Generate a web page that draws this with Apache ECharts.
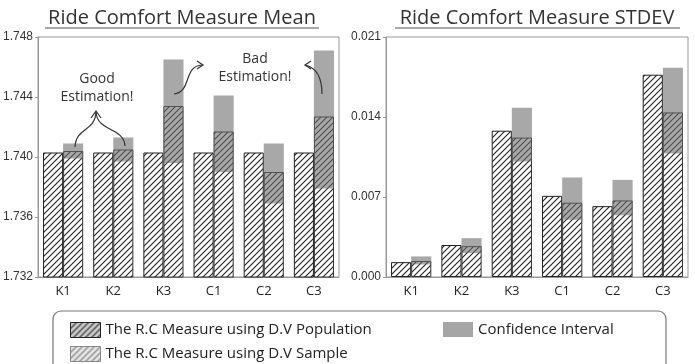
<!DOCTYPE html>
<html>
<head>
<meta charset="utf-8">
<script src="https://cdn.jsdelivr.net/npm/echarts@6/dist/echarts.min.js"></script>
<style>
html, body { margin: 0; padding: 0; background: #fff; }
#chart { width: 695px; height: 364px; }
</style>
</head>
<body>
<div id="chart"></div>
<script>
const categories = ['K1', 'K2', 'K3', 'C1', 'C2', 'C3'];

// left: ride comfort measure mean
const meanPopulation = [1.7403, 1.7403, 1.7403, 1.7403, 1.7403, 1.7403];
const meanSample = [1.7404, 1.7405, 1.7434, 1.7417, 1.7390, 1.7427];
const meanCiLow = [1.7399, 1.7397, 1.7396, 1.7390, 1.7369, 1.7379];
const meanCiHigh = [1.7409, 1.7413, 1.7465, 1.7441, 1.7409, 1.7471];
const meanAxis = { min: 1.732, max: 1.748, interval: 0.004 };

// right: ride comfort measure stdev
const stdPopulation = [0.0013, 0.0028, 0.0128, 0.0071, 0.0062, 0.0177];
const stdSample = [0.0014, 0.0027, 0.0122, 0.0065, 0.0067, 0.0144];
const stdCiLow = [0.0011, 0.0021, 0.0101, 0.0050, 0.0054, 0.0108];
const stdCiHigh = [0.0018, 0.0034, 0.0148, 0.0087, 0.0085, 0.0183];
const stdAxis = { min: 0, max: 0.021, interval: 0.007 };

const POP = 'The R.C Measure using D.V Population';
const SAMPLE = 'The R.C Measure using D.V Sample';
const CI = 'Confidence Interval';

// diagonal hatch tile
function makeHatch(lineColor, bg) {
  const s = 6;
  const c = document.createElement('canvas');
  c.width = s; c.height = s;
  const ctx = c.getContext('2d');
  ctx.fillStyle = bg;
  ctx.fillRect(0, 0, s, s);
  ctx.strokeStyle = lineColor;
  ctx.lineWidth = 1.1;
  ctx.beginPath();
  ctx.moveTo(0, s); ctx.lineTo(s, 0);
  ctx.moveTo(-1, 1); ctx.lineTo(1, -1);
  ctx.moveTo(s - 1, s + 1); ctx.lineTo(s + 1, s - 1);
  ctx.stroke();
  return { image: c, repeat: 'repeat' };
}
const hatch = makeHatch('#222', '#fff');
const hatchLegend = makeHatch('#222', '#ccc');
const hatchLegendLight = makeHatch('#777', '#e6e6e6');

function ciRender(params, api) {
  const cat = api.value(0);
  const lo = api.coord([cat, api.value(1)]);
  const hi = api.coord([cat, api.value(2)]);
  const band = api.size([1, 0])[0];
  const w = band * 0.4;
  return {
    type: 'rect',
    shape: { x: lo[0], y: hi[1], width: w, height: lo[1] - hi[1] },
    style: { fill: 'rgba(105,105,105,0.58)' }
  };
}

function seriesFor(idx, pop, sample, lo, hi) {
  return [
    {
      name: POP, type: 'bar', xAxisIndex: idx, yAxisIndex: idx,
      data: pop, barWidth: '40%', barGap: '0%',
      itemStyle: { color: hatch, borderColor: '#222', borderWidth: 1 }
    },
    {
      name: SAMPLE, type: 'bar', xAxisIndex: idx, yAxisIndex: idx,
      data: sample, barWidth: '40%', barGap: '0%',
      itemStyle: { color: hatch, borderColor: '#333', borderWidth: 1 }
    },
    {
      name: CI, type: 'custom', xAxisIndex: idx, yAxisIndex: idx, z: 3,
      itemStyle: { color: '#a6a6a6' },
      renderItem: ciRender,
      encode: { x: 0, y: [1, 2] },
      data: categories.map((c, i) => [i, lo[i], hi[i]])
    }
  ];
}

function xAxisFor(idx) {
  return {
    gridIndex: idx, type: 'category', data: categories,
    axisTick: { show: false },
    axisLine: { lineStyle: { color: '#999' } },
    axisLabel: { color: '#222', fontSize: 13, fontFamily: 'Open Sans', margin: 8 }
  };
}
function yAxisFor(idx, ax) {
  return {
    gridIndex: idx, type: 'value', min: ax.min, max: ax.max, interval: ax.interval,
    splitLine: { show: false },
    axisLine: { show: true, lineStyle: { color: '#999' } },
    axisTick: { show: true, length: 3, lineStyle: { color: '#999' } },
    axisLabel: {
      color: '#333', fontSize: 12, fontFamily: 'Liberation Sans', margin: 5,
      formatter: v => v.toFixed(3)
    }
  };
}

const txt = { fill: '#333', font: '14px "Open Sans"', align: 'center', verticalAlign: 'middle' };
const stroke = { stroke: '#333', lineWidth: 1.2, fill: null };
const legendBase = {
  itemWidth: 30, itemHeight: 15, itemGap: 8,
  icon: 'rect', selectedMode: false, padding: 0,
  textStyle: { fontSize: 15, color: '#222', fontFamily: 'Open Sans' }
};

const chart = echarts.init(document.getElementById('chart'));
chart.setOption({
  animation: false,
  grid: [
    { left: 38, top: 37, width: 301, height: 240, show: true, borderColor: '#999', borderWidth: 1 },
    { left: 386, top: 37, width: 302, height: 240, show: true, borderColor: '#999', borderWidth: 1 }
  ],
  xAxis: [xAxisFor(0), xAxisFor(1)],
  yAxis: [yAxisFor(0, meanAxis), yAxisFor(1, stdAxis)],
  legend: [
    Object.assign({}, legendBase, {
      left: 70, top: 322, orient: 'vertical',
      data: [
        { name: POP, itemStyle: { color: hatchLegend, borderColor: '#222', borderWidth: 1 } },
        { name: SAMPLE, itemStyle: { color: hatchLegendLight, borderColor: '#888', borderWidth: 1 } }
      ]
    }),
    Object.assign({}, legendBase, {
      left: 443, top: 322,
      data: [{ name: CI, itemStyle: { color: '#a6a6a6' } }]
    })
  ],
  graphic: [
    { type: 'rect', shape: { x: 53, y: 311, width: 613, height: 70, r: 8 }, style: { fill: null, stroke: '#777', lineWidth: 1.2 } },
    { type: 'text', x: 182, y: 18, style: { text: 'Ride Comfort Measure Mean', fill: '#333', font: '20px "Open Sans"', align: 'center', verticalAlign: 'middle' } },
    { type: 'line', shape: { x1: 45, y1: 28, x2: 319, y2: 28 }, style: { stroke: '#555', lineWidth: 1.2 } },
    { type: 'text', x: 537, y: 18, style: { text: 'Ride Comfort Measure STDEV', fill: '#333', font: '20px "Open Sans"', align: 'center', verticalAlign: 'middle' } },
    { type: 'line', shape: { x1: 395, y1: 28, x2: 680, y2: 28 }, style: { stroke: '#555', lineWidth: 1.2 } },
    // good estimation
    { type: 'text', x: 97, y: 79, z: 10, style: Object.assign({ text: 'Good' }, txt) },
    { type: 'text', x: 97, y: 97, z: 10, style: Object.assign({ text: 'Estimation!' }, txt) },
    { type: 'bezierCurve', z: 10, shape: { x1: 75, y1: 147, cpx1: 76, cpy1: 127, cpx2: 95, cpy2: 132, x2: 96, y2: 112 }, style: stroke },
    { type: 'bezierCurve', z: 10, shape: { x1: 125, y1: 146, cpx1: 124, cpy1: 127, cpx2: 97, cpy2: 132, x2: 96, y2: 112 }, style: stroke },
    { type: 'polyline', z: 10, shape: { points: [[91, 118], [96, 111], [101, 118]] }, style: stroke },
    // bad estimation
    { type: 'text', x: 255, y: 59, z: 10, style: Object.assign({ text: 'Bad' }, txt) },
    { type: 'text', x: 255, y: 77, z: 10, style: Object.assign({ text: 'Estimation!' }, txt) },
    { type: 'bezierCurve', z: 10, shape: { x1: 174, y1: 94, cpx1: 192, cpy1: 92, cpx2: 183, cpy2: 66, x2: 202, y2: 65 }, style: stroke },
    { type: 'polyline', z: 10, shape: { points: [[197, 61], [203, 65], [197, 69]] }, style: stroke },
    { type: 'bezierCurve', z: 10, shape: { x1: 322, y1: 94, cpx1: 322, cpy1: 80, cpx2: 318, cpy2: 68, x2: 305, y2: 65 }, style: stroke },
    { type: 'polyline', z: 10, shape: { points: [[311, 61], [305, 65], [311, 69]] }, style: stroke }
  ],
  series: [].concat(
    seriesFor(0, meanPopulation, meanSample, meanCiLow, meanCiHigh),
    seriesFor(1, stdPopulation, stdSample, stdCiLow, stdCiHigh)
  )
});
</script>
</body>
</html>
